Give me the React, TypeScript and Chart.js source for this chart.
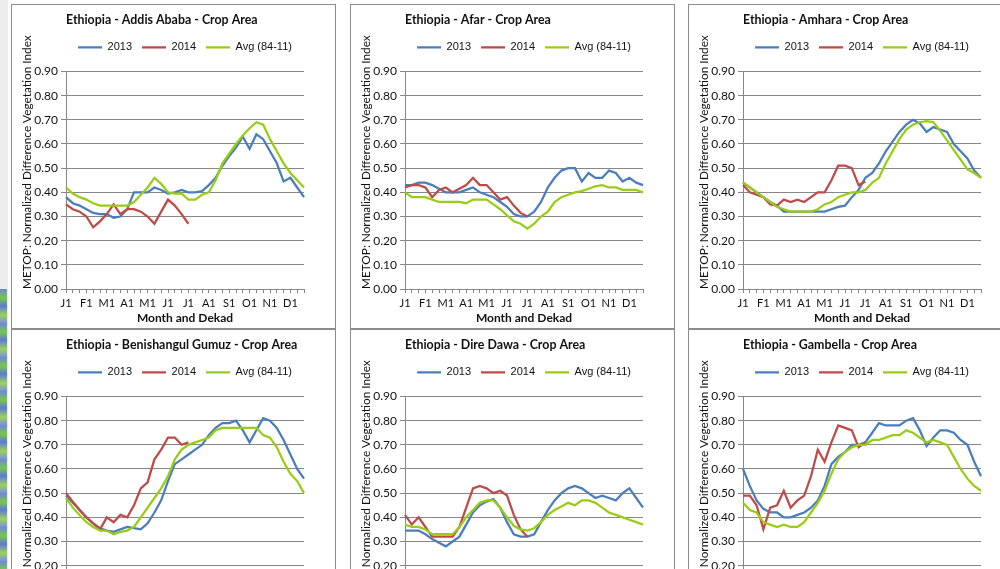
import React, { useEffect, useRef } from 'react';
import { Chart, registerables } from 'chart.js';

Chart.register(...registerables);

// ---------- data ----------
const DEKADS = [
  'J1', 'J2', 'J3', 'F1', 'F2', 'F3', 'M1', 'M2', 'M3', 'A1', 'A2', 'A3',
  'M1', 'M2', 'M3', 'J1', 'J2', 'J3', 'J1', 'J2', 'J3', 'A1', 'A2', 'A3',
  'S1', 'S2', 'S3', 'O1', 'O2', 'O3', 'N1', 'N2', 'N3', 'D1', 'D2', 'D3',
];
const SERIES_NAMES = ['2013', '2014', 'Avg (84-11)'];
const Y_AXIS_TITLE = 'METOP: Normalized Difference Vegetation Index';
const X_AXIS_TITLE = 'Month and Dekad';
const Y_MIN = 0;
const Y_MAX = 0.9;
const Y_STEP = 0.1;

const addisAbaba2013 = [0.38, 0.355, 0.345, 0.33, 0.315, 0.31, 0.31, 0.295, 0.3, 0.33, 0.4, 0.4, 0.4, 0.42, 0.41, 0.395, 0.4, 0.41, 0.4, 0.4, 0.405, 0.43, 0.46, 0.51, 0.55, 0.585, 0.63, 0.58, 0.64, 0.62, 0.57, 0.52, 0.445, 0.46, 0.42, 0.38];
const addisAbaba2014 = [0.35, 0.33, 0.32, 0.3, 0.255, 0.28, 0.31, 0.35, 0.31, 0.33, 0.33, 0.32, 0.3, 0.27, 0.32, 0.37, 0.345, 0.31, 0.27];
const addisAbabaAvg = [0.42, 0.395, 0.38, 0.37, 0.355, 0.345, 0.345, 0.345, 0.345, 0.345, 0.36, 0.39, 0.42, 0.46, 0.435, 0.4, 0.395, 0.395, 0.37, 0.37, 0.39, 0.4, 0.45, 0.52, 0.56, 0.6, 0.635, 0.665, 0.69, 0.68, 0.62, 0.57, 0.52, 0.48, 0.45, 0.42];

const afar2013 = [0.43, 0.43, 0.44, 0.44, 0.43, 0.415, 0.4, 0.4, 0.4, 0.41, 0.42, 0.4, 0.39, 0.38, 0.36, 0.34, 0.31, 0.3, 0.3, 0.32, 0.36, 0.42, 0.46, 0.49, 0.5, 0.5, 0.445, 0.48, 0.46, 0.46, 0.49, 0.48, 0.445, 0.46, 0.44, 0.43];
const afar2014 = [0.42, 0.43, 0.43, 0.42, 0.38, 0.41, 0.42, 0.4, 0.415, 0.43, 0.46, 0.43, 0.43, 0.4, 0.37, 0.38, 0.345, 0.315, 0.3];
const afarAvg = [0.4, 0.38, 0.38, 0.38, 0.37, 0.36, 0.36, 0.36, 0.36, 0.355, 0.37, 0.37, 0.37, 0.35, 0.33, 0.305, 0.28, 0.27, 0.25, 0.27, 0.3, 0.32, 0.36, 0.38, 0.39, 0.4, 0.405, 0.415, 0.425, 0.43, 0.42, 0.42, 0.41, 0.41, 0.41, 0.4];

const amhara2013 = [0.44, 0.42, 0.4, 0.38, 0.36, 0.345, 0.32, 0.32, 0.32, 0.32, 0.32, 0.32, 0.32, 0.33, 0.34, 0.345, 0.38, 0.41, 0.46, 0.48, 0.52, 0.57, 0.61, 0.65, 0.68, 0.7, 0.685, 0.65, 0.67, 0.66, 0.65, 0.6, 0.57, 0.54, 0.49, 0.46];
const amhara2014 = [0.43, 0.4, 0.39, 0.38, 0.35, 0.345, 0.37, 0.36, 0.37, 0.36, 0.38, 0.4, 0.4, 0.45, 0.51, 0.51, 0.5, 0.43, 0.445];
const amharaAvg = [0.44, 0.42, 0.4, 0.38, 0.36, 0.34, 0.33, 0.32, 0.32, 0.32, 0.32, 0.33, 0.35, 0.36, 0.38, 0.39, 0.4, 0.4, 0.41, 0.44, 0.46, 0.52, 0.57, 0.62, 0.66, 0.68, 0.69, 0.695, 0.69, 0.655, 0.615, 0.575, 0.535, 0.495, 0.48, 0.46];

const benishangul2013 = [0.49, 0.46, 0.43, 0.4, 0.375, 0.355, 0.345, 0.34, 0.35, 0.36, 0.355, 0.35, 0.375, 0.42, 0.47, 0.55, 0.62, 0.64, 0.66, 0.68, 0.7, 0.74, 0.77, 0.79, 0.79, 0.8, 0.76, 0.71, 0.76, 0.81, 0.8, 0.77, 0.72, 0.66, 0.6, 0.56];
const benishangul2014 = [0.5, 0.465, 0.43, 0.4, 0.375, 0.35, 0.4, 0.38, 0.41, 0.4, 0.45, 0.52, 0.545, 0.64, 0.68, 0.73, 0.73, 0.7, 0.71];
const benishangulAvg = [0.48, 0.44, 0.41, 0.38, 0.36, 0.345, 0.345, 0.33, 0.34, 0.345, 0.36, 0.4, 0.44, 0.48, 0.52, 0.57, 0.64, 0.68, 0.7, 0.71, 0.72, 0.73, 0.76, 0.77, 0.77, 0.77, 0.77, 0.77, 0.77, 0.74, 0.73, 0.69, 0.63, 0.58, 0.55, 0.5];

const direDawa2013 = [0.345, 0.345, 0.345, 0.33, 0.31, 0.295, 0.28, 0.3, 0.32, 0.37, 0.42, 0.45, 0.465, 0.475, 0.44, 0.38, 0.33, 0.32, 0.32, 0.33, 0.38, 0.43, 0.47, 0.5, 0.52, 0.53, 0.52, 0.5, 0.48, 0.49, 0.48, 0.47, 0.5, 0.52, 0.48, 0.44];
const direDawa2014 = [0.41, 0.37, 0.4, 0.36, 0.32, 0.32, 0.32, 0.32, 0.36, 0.44, 0.52, 0.53, 0.52, 0.5, 0.51, 0.49, 0.41, 0.35, 0.32];
const direDawaAvg = [0.37, 0.36, 0.36, 0.35, 0.33, 0.33, 0.33, 0.33, 0.36, 0.4, 0.43, 0.46, 0.47, 0.47, 0.44, 0.4, 0.365, 0.35, 0.345, 0.355, 0.38, 0.41, 0.43, 0.445, 0.46, 0.45, 0.47, 0.47, 0.46, 0.44, 0.42, 0.41, 0.4, 0.39, 0.38, 0.37];

const gambella2013 = [0.6, 0.53, 0.47, 0.435, 0.42, 0.42, 0.4, 0.4, 0.41, 0.42, 0.44, 0.47, 0.53, 0.62, 0.65, 0.67, 0.7, 0.7, 0.71, 0.75, 0.79, 0.78, 0.78, 0.78, 0.8, 0.81, 0.76, 0.695, 0.73, 0.76, 0.76, 0.75, 0.72, 0.7, 0.63, 0.57];
const gambella2014 = [0.49, 0.49, 0.45, 0.35, 0.44, 0.45, 0.51, 0.44, 0.47, 0.49, 0.57, 0.68, 0.63, 0.71, 0.78, 0.77, 0.76, 0.69, 0.71];
const gambellaAvg = [0.46, 0.43, 0.42, 0.38, 0.37, 0.36, 0.37, 0.36, 0.36, 0.38, 0.42, 0.46, 0.51, 0.58, 0.64, 0.67, 0.69, 0.7, 0.7, 0.72, 0.72, 0.73, 0.74, 0.74, 0.76, 0.75, 0.73, 0.71, 0.72, 0.71, 0.7, 0.65, 0.6, 0.56, 0.53, 0.51];

const TITLES = [
  'Ethiopia - Addis Ababa - Crop Area',
  'Ethiopia - Afar - Crop Area',
  'Ethiopia - Amhara - Crop Area',
  'Ethiopia - Benishangul Gumuz - Crop Area',
  'Ethiopia - Dire Dawa - Crop Area',
  'Ethiopia - Gambella - Crop Area',
];
const SERIES_2013 = [addisAbaba2013, afar2013, amhara2013, benishangul2013, direDawa2013, gambella2013];
const SERIES_2014 = [addisAbaba2014, afar2014, amhara2014, benishangul2014, direDawa2014, gambella2014];
const SERIES_AVG = [addisAbabaAvg, afarAvg, amharaAvg, benishangulAvg, direDawaAvg, gambellaAvg];

// ---------- layout / style ----------
const PANEL_POS = [
  { left: 11, top: 4 },
  { left: 350, top: 4 },
  { left: 688, top: 4 },
  { left: 11, top: 329 },
  { left: 350, top: 329 },
  { left: 688, top: 329 },
];
const PANEL_W = 325;
const PANEL_H = 325;
const CANVAS_W = 296;
const CANVAS_H = 323;

const BLUE = '#4A7EBB';
const RED = '#BE4B48';
const GREEN = '#99CC14';
const GRID = '#878787';
const TEXT = '#111111';

const legendGap = {
  id: 'legendGap',
  beforeInit(chart: any) {
    const legend = chart.legend;
    if (!legend) return;
    const fit = legend.fit;
    legend.fit = function () {
      fit.call(this);
      this.height += 8.6;
    };
  },
};

function Panel({ idx }: { idx: number }) {
  const ref = useRef<HTMLCanvasElement>(null);
  useEffect(() => {
    const colors = [BLUE, RED, GREEN];
    const dataSets = [SERIES_2013[idx], SERIES_2014[idx], SERIES_AVG[idx]];
    const chart = new Chart(ref.current as HTMLCanvasElement, {
      type: 'line',
      data: {
        labels: DEKADS,
        datasets: dataSets.map((d, i) => ({
          label: SERIES_NAMES[i],
          data: d,
          borderColor: colors[i],
          backgroundColor: colors[i],
          borderWidth: 2.25,
          pointRadius: 0,
          tension: 0,
          fill: false,
          order: 3 - i,
        })),
      },
      options: {
        animation: false,
        responsive: false,
        maintainAspectRatio: false,
        devicePixelRatio: 1,
        layout: { padding: { left: 0, right: 3, top: 0, bottom: 0 } },
        plugins: {
          tooltip: { enabled: false },
          title: {
            display: true,
            text: TITLES[idx],
            align: 'start',
            fullSize: false,
            color: TEXT,
            font: { family: 'Lato', size: 12.4, weight: 'bold' },
            padding: { top: 8, bottom: 4 },
          },
          legend: {
            display: true,
            position: 'top',
            align: 'center',
            fullSize: false,
            labels: {
              usePointStyle: true,
              pointStyle: 'line',
              pointStyleWidth: 24,
              boxWidth: 24,
              padding: 10,
              color: TEXT,
              font: { family: 'Liberation Sans', size: 11 },
              sort: (a: any, b: any) => a.datasetIndex - b.datasetIndex,
            },
          },
        },
        scales: {
          x: {
            type: 'category',
            offset: false,
            grid: {
              display: true,
              drawOnChartArea: false,
              drawTicks: true,
              tickLength: 4,
              color: GRID,
              offset: false,
            },
            border: { display: true, color: GRID },
            ticks: {
              autoSkip: false,
              maxRotation: 0,
              minRotation: 0,
              padding: 4,
              color: TEXT,
              font: { family: 'Lato', size: 11 },
              callback: (_v: any, i: number) => (DEKADS[i].endsWith('1') ? DEKADS[i] : ''),
            },
            title: {
              display: true,
              text: X_AXIS_TITLE,
              color: TEXT,
              font: { family: 'Lato', size: 12, weight: 'bold' },
              padding: { top: 0, bottom: 3 },
            },
            afterFit: (s: any) => {
              s.height = 39;
            },
          },
          y: {
            min: Y_MIN,
            max: Y_MAX,
            grid: { color: GRID, tickLength: 5, drawTicks: true },
            border: { display: true, color: GRID },
            ticks: {
              stepSize: Y_STEP,
              padding: 3,
              color: TEXT,
              font: { family: 'Lato', size: 12 },
              callback: (v: any) => Number(v).toFixed(2),
            },
            title: {
              display: true,
              text: Y_AXIS_TITLE,
              align: 'start',
              color: TEXT,
              font: { family: 'Lato', size: 11.8 },
              padding: { top: 8, bottom: 0 },
            },
            afterFit: (s: any) => {
              s.width = 54;
            },
          },
        },
      },
      plugins: [legendGap],
    } as any);
    return () => chart.destroy();
  }, [idx]);

  const pos = PANEL_POS[idx];
  return (
    <div
      style={{
        position: 'absolute',
        left: pos.left,
        top: pos.top,
        width: PANEL_W,
        height: PANEL_H,
        boxSizing: 'border-box',
        border: '1px solid #8c8c8c',
        background: '#ffffff',
      }}
    >
      <canvas
        ref={ref}
        width={CANVAS_W}
        height={CANVAS_H}
        style={{ position: 'absolute', left: 0, top: 0, width: CANVAS_W, height: CANVAS_H }}
      />
    </div>
  );
}

export default function App() {
  return (
    <div
      style={{
        position: 'fixed',
        left: 0,
        top: 0,
        width: 1000,
        height: 569,
        overflow: 'hidden',
        background: '#ffffff',
      }}
    >
      <div style={{ position: 'absolute', left: 0, top: 0, width: 8, height: 569, background: '#ededed' }} />
      <div
        style={{
          position: 'absolute',
          left: 0,
          top: 289,
          width: 7,
          height: 280,
          background:
            'repeating-linear-gradient(180deg, #6f86d9 0px, #79c84a 9px, #5d78d6 17px, #9bd45a 26px, #7a8fe0 34px)',
        }}
      />
      {TITLES.map((_, i) => (
        <Panel key={i} idx={i} />
      ))}
    </div>
  );
}
